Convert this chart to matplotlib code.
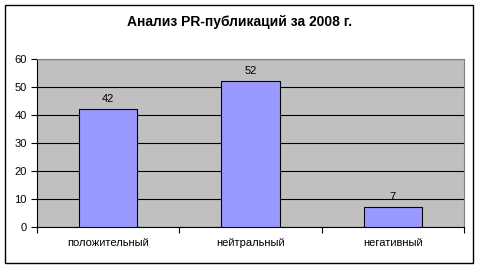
import numpy as np
import matplotlib
matplotlib.use("Agg")
from matplotlib import pyplot as plt
from matplotlib.patches import Rectangle

categories = ["положительный", "нейтральный", "негативный"]
values = [42, 52, 7]
title = "Анализ PR-публикаций за 2008 г."

plt.rcParams['font.family'] = ['Liberation Sans', 'DejaVu Sans']

fig = plt.figure(figsize=(4.8, 2.7), dpi=100)
fig.patch.set_facecolor("white")
fig.add_artist(Rectangle((5 / 480, 1 - 263 / 270), 468 / 480, 258 / 270,
                         transform=fig.transFigure, fill=False,
                         edgecolor="black", linewidth=1.0))

ax = fig.add_axes([37 / 480, 1 - 227 / 270, 427 / 480, 168 / 270])
ax.set_facecolor("#C0C0C0")
x = np.arange(len(categories))
ax.bar(x, values, width=0.41, color="#9999FF", edgecolor="black", linewidth=0.8, zorder=3)
for xi, v in zip(x, values):
    ax.text(xi, v + 2, str(v), ha="center", va="bottom", fontsize=8)

ax.set_xlim(-0.5, 2.5)
ax.set_ylim(0, 60)
ax.set_yticks(range(0, 61, 10))
ax.yaxis.grid(True, color="black", linewidth=0.8, zorder=1)
ax.set_axisbelow(True)
ax.set_xticks([-0.5, 0.5, 1.5, 2.5])
ax.set_xticklabels([])
ax.set_xticks(x, minor=True)
ax.set_xticklabels(categories, minor=True)
ax.tick_params(axis="x", which="minor", length=0, pad=8, labelsize=8)
ax.tick_params(axis="x", which="major", length=4, width=0.8)
ax.tick_params(axis="y", length=4, width=0.8, labelsize=8)

for side in ["top", "right"]:
    ax.spines[side].set_color("#808080")
    ax.spines[side].set_linewidth(0.8)
for side in ["left", "bottom"]:
    ax.spines[side].set_color("black")
    ax.spines[side].set_linewidth(0.8)

fig.text(240 / 480, 1 - 22 / 270, title, ha="center", va="center",
         fontsize=10, fontweight="bold")

fig.savefig("out.png", dpi=100)
